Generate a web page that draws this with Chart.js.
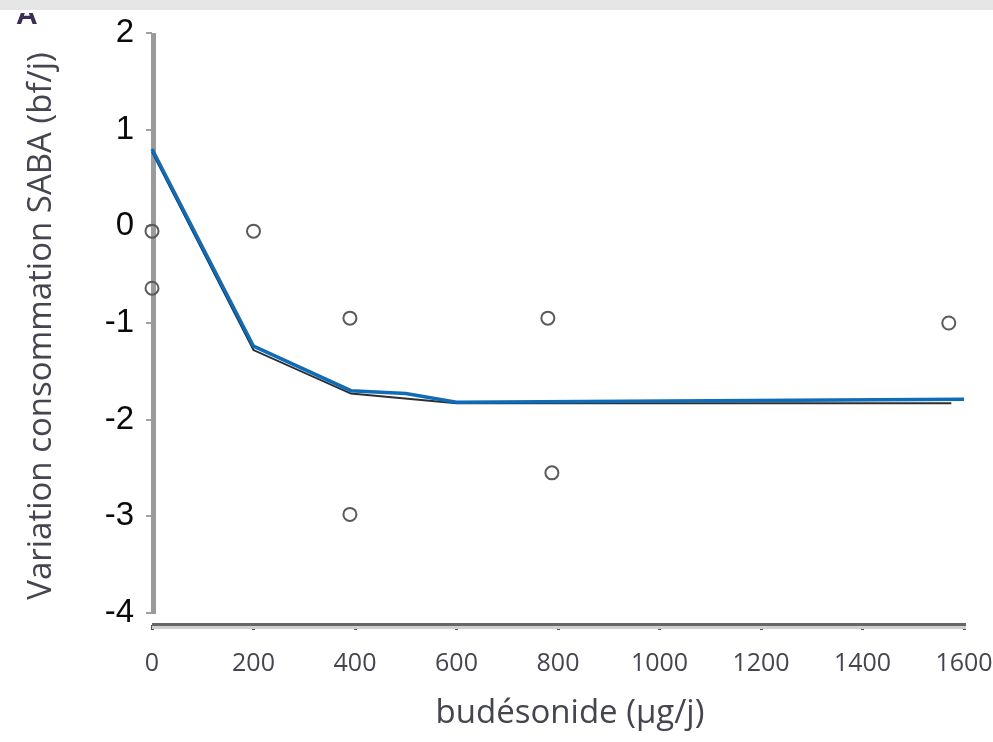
<!DOCTYPE html>
<html>
<head>
<meta charset="utf-8">
<script src="https://cdn.jsdelivr.net/npm/chart.js@4.4.1/dist/chart.umd.min.js"></script>
<style>
  html, body { margin: 0; padding: 0; background: #fff; }
  #wrap { position: relative; width: 993px; height: 742px; overflow: hidden; }
  #strip { position: absolute; left: 0; top: 0; width: 993px; height: 10px; background: #e6e6e6; z-index: 2; }
  #cut { position: absolute; left: 14px; top: 13px; width: 30px; height: 17px; overflow: hidden; z-index: 1; }
  #cut span { position: absolute; left: 2px; top: -16px; font: bold 30px "Liberation Sans", Arial, sans-serif; color: #3b2d55; }
  #myChart { position: absolute; left: 0; top: 0; }
</style>
</head>
<body>
<div id="wrap">
  <div id="strip"></div>
  <div id="cut"><span>A</span></div>
  <canvas id="myChart" width="993" height="742"></canvas>
</div>
<script>
// tick labels
var xTicks = [0, 200, 400, 600, 800, 1000, 1200, 1400, 1600];
var yTicks = [2, 1, 0, -1, -2, -3, -4];

// observed points (open circles)
var pointX = [0, 0, 200, 390, 390, 780, 788, 1570];
var pointY = [-0.05, -0.64, -0.05, -0.95, -2.98, -0.95, -2.55, -1.0];

// fitted curve (blue)
var fitX = [0, 200, 392, 500, 600, 1600];
var fitY = [0.8, -1.24, -1.7, -1.73, -1.82, -1.79];

// original dark curve under the blue one
var oldX = [0, 200, 392, 600, 1575];
var oldY = [0.77, -1.28, -1.73, -1.83, -1.83];

var xTitle = 'budésonide (µg/j)';
var yTitle = 'Variation consommation SABA (bf/j)';

function toXY(xs, ys) {
    var out = [];
    for (var i = 0; i < xs.length; i++) {
        out.push({x: xs[i], y: ys[i]});
    }
    return out;
}

// axis lines and titles drawn from the scales
var axisPlugin = {
    id: 'axisPlugin',
    beforeDatasetsDraw: function (chart) {
        var ctx = chart.ctx;
        var xs = chart.scales.x;
        var ys = chart.scales.y;
        var x0 = xs.getPixelForValue(0);
        var x1 = xs.getPixelForValue(1600);
        var top = ys.getPixelForValue(2);
        var bot = ys.getPixelForValue(-4);
        var base = chart.chartArea.bottom;
        ctx.save();
        ctx.fillStyle = '#9b9b9b';
        ctx.fillRect(x0 - 1, top, 5, bot - top + 1);
        ctx.fillStyle = '#cfcfcf';
        ctx.fillRect(x0, base + 1, x1 - x0 + 2, 3);
        ctx.fillStyle = '#666666';
        ctx.fillRect(x0, base - 2, x1 - x0 + 2, 3);
        ctx.restore();
    },
    afterDraw: function (chart) {
        var ctx = chart.ctx;
        ctx.save();
        ctx.fillStyle = '#44454f';
        ctx.textAlign = 'center';
        ctx.textBaseline = 'middle';
        ctx.font = '33px "Open Sans"';
        ctx.fillText(xTitle, 570, 714);
        ctx.translate(42, 326);
        ctx.rotate(-Math.PI / 2);
        ctx.fillText(yTitle, 0, 0);
        ctx.restore();
    }
};

var ctx = document.getElementById('myChart').getContext('2d');
var myChart = new Chart(ctx, {
    type: 'scatter',
    data: {
        datasets: [{
            data: toXY(pointX, pointY),
            showLine: false,
            pointRadius: 6.5,
            pointBorderWidth: 2,
            pointBorderColor: '#5a5a5a',
            pointBackgroundColor: 'rgba(255,255,255,0)',
            clip: false
        }, {
            data: toXY(fitX, fitY),
            showLine: true,
            borderColor: '#0f6cb8',
            borderWidth: 3.5,
            pointRadius: 0,
            clip: false
        }, {
            data: toXY(oldX, oldY),
            showLine: true,
            borderColor: '#2e2e2e',
            borderWidth: 2,
            pointRadius: 0,
            clip: false
        }]
    },
    options: {
        responsive: false,
        animation: false,
        devicePixelRatio: 1,
        layout: {padding: {top: 33, right: 0, left: 0, bottom: 0}},
        plugins: {
            legend: {display: false},
            tooltip: {enabled: false}
        },
        scales: {
            x: {
                type: 'linear',
                min: 0,
                max: 1600,
                afterBuildTicks: function (axis) {
                    axis.ticks = xTicks.map(function (v) { return {value: v}; });
                },
                afterFit: function (axis) {
                    axis.height = 117;
                    axis.paddingLeft = 0;
                    axis.paddingRight = 29;
                },
                border: {display: false},
                grid: {drawOnChartArea: false, drawTicks: true, tickLength: 5, color: '#555', lineWidth: 3},
                ticks: {
                    color: '#44454f',
                    font: {family: '"Open Sans"', size: 25},
                    padding: 19,
                    maxRotation: 0,
                    callback: function (v) { return String(v); }
                }
            },
            y: {
                type: 'linear',
                min: -4.124,
                max: 2,
                afterBuildTicks: function (axis) {
                    axis.ticks = yTicks.map(function (v) { return {value: v}; });
                },
                afterFit: function (axis) { axis.width = 152; },
                border: {display: false},
                grid: {drawOnChartArea: false, drawTicks: true, tickLength: 6, color: '#a0a0a0', lineWidth: 2},
                ticks: {
                    color: '#0a0a0a',
                    font: {family: '"Liberation Sans", Arial', size: 33},
                    padding: 12,
                    callback: function (v) { return String(v); }
                }
            }
        }
    },
    plugins: [axisPlugin]
});
</script>
</body>
</html>
